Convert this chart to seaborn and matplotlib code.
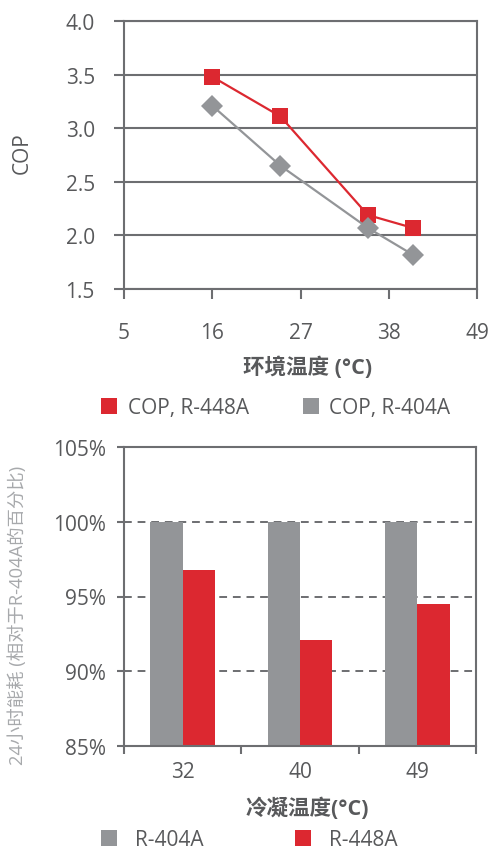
import pandas as pd
import seaborn as sns
import matplotlib.pyplot as plt
from matplotlib.lines import Line2D

sns.set_theme(style="white")
plt.rcParams['font.family'] = ['Open Sans', 'Noto Sans CJK SC', 'DejaVu Sans']

# top chart: COP vs ambient temperature
temps = [16, 24.5, 35.4, 41]
cop_448a = [3.48, 3.11, 2.19, 2.07]
cop_404a = [3.21, 2.65, 2.07, 1.82]
x_ticks_top = [5, 16, 27, 38, 49]
y_ticks_top = [1.5, 2.0, 2.5, 3.0, 3.5, 4.0]

# bottom chart: 24h energy relative to R-404A
cond_temps = ["32", "40", "49"]
energy_404a = [100, 100, 100]
energy_448a = [96.8, 92.1, 94.5]
y_ticks_bot = [85, 90, 95, 100, 105]

RED = "#dc2830"
GRAY = "#939598"
TXT = "#58595b"
LINE = "#6d6e71"

df_cop = pd.concat([
    pd.DataFrame({"temp": temps, "cop": cop_448a, "series": "COP, R-448A"}),
    pd.DataFrame({"temp": temps, "cop": cop_404a, "series": "COP, R-404A"}),
])
df_en = pd.concat([
    pd.DataFrame({"cond": cond_temps, "val": energy_404a, "ref": "R-404A"}),
    pd.DataFrame({"cond": cond_temps, "val": energy_448a, "ref": "R-448A"}),
])

fig = plt.figure(figsize=(4.9, 8.53), dpi=100)

# ---- top ----
ax1 = fig.add_axes([124/490, 1-290/853, 353/490, 268/853])
sns.lineplot(data=df_cop, x="temp", y="cop", hue="series", style="series",
             palette={"COP, R-448A": RED, "COP, R-404A": GRAY},
             markers={"COP, R-448A": "s", "COP, R-404A": "D"}, dashes=False,
             markersize=11.5, markeredgewidth=0, linewidth=1.6, legend=False,
             ax=ax1, zorder=3)
ax1.set_xlim(5, 49)
ax1.set_ylim(1.5, 4.0)
ax1.set_xticks(x_ticks_top)
ax1.set_yticks(y_ticks_top)
ax1.set_yticklabels([f"{v:.1f}" for v in y_ticks_top])
ax1.yaxis.grid(True, color=LINE, linewidth=1.5)
ax1.xaxis.grid(False)
for s in ax1.spines.values():
    s.set_color(LINE)
    s.set_linewidth(1.5)
ax1.tick_params(axis="y", length=7, width=1.5, color=LINE, pad=14,
                labelsize=15, labelcolor=TXT, left=True)
ax1.tick_params(axis="x", length=7, width=1.5, color=LINE, pad=17,
                labelsize=15, labelcolor=TXT, bottom=True)
ax1.set_xlabel("环境温度 (°C)", fontsize=15.5, fontweight="bold", color=TXT)
ax1.xaxis.set_label_coords(0.52, -0.25)
ax1.set_ylabel("COP", fontsize=15, color=TXT)
ax1.yaxis.set_label_coords(-0.258, 0.51)

h1 = [Line2D([], [], marker="s", linestyle="none", markersize=12,
             markerfacecolor=c, markeredgewidth=0) for c in (RED, GRAY)]
fig.legend(h1, ["COP, R-448A", "COP, R-404A"], loc="center left",
           bbox_to_anchor=(100/490, 1-409/853), ncol=2, frameon=False,
           fontsize=15, labelcolor=TXT, handlelength=0.9,
           handletextpad=0.45, columnspacing=2.5, borderpad=0, borderaxespad=0)

# ---- bottom ----
ax2 = fig.add_axes([124/490, 1-747/853, 352/490, 299/853])
sns.barplot(data=df_en, x="cond", y="val", hue="ref",
            palette={"R-404A": GRAY, "R-448A": RED}, saturation=1,
            width=0.55, linewidth=0, legend=False, ax=ax2)
ax2.set_axisbelow(True)
ax2.set_ylim(85, 105)
ax2.set_xlim(-0.5, 2.5)
ax2.set_yticks(y_ticks_bot)
ax2.set_yticklabels([f"{v}%" for v in y_ticks_bot])
ax2.yaxis.grid(True, color=LINE, linewidth=1.4, linestyle=(0, (4, 3)))
ax2.xaxis.grid(False)
ax2.set_xticks([-0.5, 0.5, 1.5, 2.5])
ax2.set_xticklabels([])
ax2.set_xticks([0, 1, 2], minor=True)
ax2.set_xticklabels(cond_temps, minor=True)
for s in ax2.spines.values():
    s.set_color(LINE)
    s.set_linewidth(1.5)
ax2.tick_params(axis="y", length=5, width=1.5, color=LINE, pad=8,
                labelsize=15, labelcolor=TXT, left=True)
ax2.tick_params(axis="x", which="major", length=6, width=1.5, color=LINE,
                bottom=True)
ax2.tick_params(axis="x", which="minor", length=0, pad=11,
                labelsize=15, labelcolor=TXT, bottom=True)
ax2.set_xlabel("冷凝温度(°C)", fontsize=15.5, fontweight="bold", color=TXT)
ax2.xaxis.set_label_coords(0.52, -0.168)
ax2.set_ylabel("24小时能耗 (相对于R-404A的百分比)", fontsize=13.2,
               color="#a7a9ac")
ax2.yaxis.set_label_coords(-0.275, 0.44)

h2 = [Line2D([], [], marker="s", linestyle="none", markersize=12,
             markerfacecolor=c, markeredgewidth=0) for c in (GRAY, RED)]
fig.legend(h2, ["R-404A", "R-448A"], loc="center left",
           bbox_to_anchor=(100/490, 1-841/853), ncol=2, frameon=False,
           fontsize=15, labelcolor=TXT, handlelength=0.9,
           handletextpad=0.8, columnspacing=4.3, borderpad=0, borderaxespad=0)

fig.savefig("out.png", dpi=100)
